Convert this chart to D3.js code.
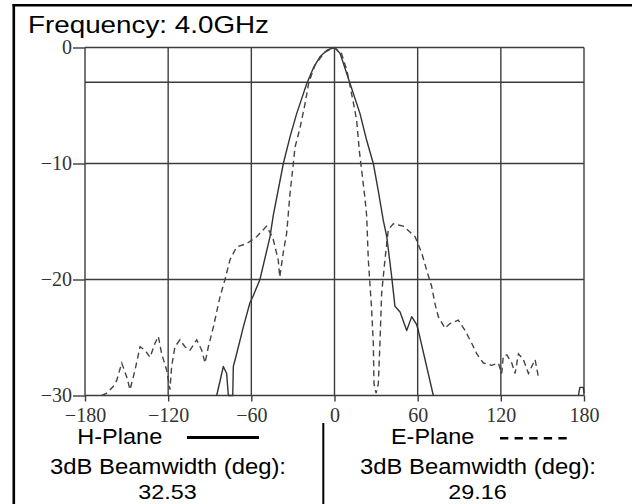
<!DOCTYPE html>
<html>
<head>
<meta charset="utf-8">
<script src="https://cdn.jsdelivr.net/npm/d3@7/dist/d3.min.js"></script>
<style>
  html, body { margin: 0; padding: 0; background: #fff; }
  svg { display: block; }
</style>
</head>
<body>
<svg id="chart" width="632" height="504"></svg>
<script>
// ---------- data ----------
const titleText = "Frequency: 4.0GHz";
const xTicks = [-180, -120, -60, 0, 60, 120, 180];
const yTicks = [0, -10, -20, -30];
const yGrid = [0, -3, -10, -20, -30];

// H-Plane (solid)
const hAngles = [-85, -80.2, -77.8, -76.6, -73.4, -73, -70.6, -65.8, -61, -58.6, -53.8, -46.5, -44.2, -36.9, -32.1, -27.3, -20, -15, -10.5, -5, 0, 4, 11.2, 18.4, 23.2, 28, 31.5, 35.2, 37.7, 41.3, 43.6, 47.3, 52.1, 55.7, 59.3, 60.5, 71.3, null, 176, 177, 179.5, 180];
const hGain   = [-30, -27.5, -28.1, -30, -30, -27.5, -26.4, -24.1, -22, -21.4, -20, -16.3, -14.5, -10, -7.7, -5.7, -3.1, -1.7, -0.8, -0.2, 0, -0.5, -3.1, -5.7, -8, -10, -12.3, -14.9, -16.3, -19.8, -22.3, -22.8, -24.4, -23.2, -23.9, -24.4, -30, null, -30, -29.3, -29.3, -29.8];

// E-Plane (dashed)
const eAngles = [-168, -164.3, -159.5, -157.1, -153.5, -149.9, -147.5, -143.9, -140.3, -136.7, -133.1, -129.5, -127.1, -124.7, -121.1, -118.7, -117.5, -115.1, -111.5, -107.9, -104.3, -99.4, -95.8, -93.4, -91, -87.4, -82.6, -79, -75.4, -70.6, -63.3, -56, -49, -44.5, -40.6, -39.5, -37, -34.5, -32.1, -29.7, -28.5, -25, -21.5, -18.5, -14, -7, 0, 5, 9, 11, 14, 16, 18, 20, 22, 23.2, 24.4, 26.8, 28, 28.5, 30, 31.6, 32.8, 34, 36.4, 38.8, 42.4, 49.6, 58.1, 62.9, 66.5, 70.1, 72.5, 74.9, 79.7, 83.3, 89.3, 94.2, 99, 102.6, 107.4, 113.4, 118.2, 120.6, 121.8, 124.3, 127.9, 130.3, 132.7, 136.3, 139.9, 142.3, 144.7, 147.1];
const eGain   = [-30, -29.8, -29.2, -28.7, -27.2, -28.4, -29.5, -27.8, -25.8, -26.1, -26.7, -25.5, -24.9, -26.4, -27.8, -29.5, -27.5, -25.8, -25.2, -25.8, -26.1, -25.2, -26.1, -27.2, -25.8, -24.1, -21.5, -20, -18.3, -17.2, -16.9, -16.3, -15.4, -16.4, -18.3, -19.8, -17.7, -16, -12.6, -10, -8.6, -7, -5, -3, -1.5, -0.4, 0, -0.5, -2, -3.2, -5, -6.3, -9, -11, -13, -14.5, -18.3, -22.6, -25.5, -29, -29.8, -29, -25.5, -21.2, -18.3, -15.7, -15.2, -15.4, -16.3, -17.7, -19.2, -20.6, -22.1, -23.2, -24.2, -23.8, -23.5, -24.4, -25.5, -26.4, -27.2, -27.4, -27.2, -28.1, -26.6, -26.5, -27.2, -28.1, -26.4, -26.9, -28.1, -27.5, -26.9, -28.4];

const legendLabels = ["H-Plane", "E-Plane"];
const beamLabel = "3dB Beamwidth (deg):";
const beamValues = ["32.53", "29.16"];

// ---------- drawing ----------
const svg = d3.select("#chart");
const sans = "'Liberation Sans', Arial, sans-serif";
const serif = "'Liberation Serif', 'Times New Roman', serif";

const x = d3.scaleLinear().domain([-180, 180]).range([85, 584]);
const y = d3.scaleLinear().domain([-30, 0]).range([395.5, 47.5]);

// outer frame
svg.append("line").attr("x1", 12.5).attr("x2", 632).attr("y1", 5.3).attr("y2", 5.3)
  .attr("stroke", "#000").attr("stroke-width", 2.6);
svg.append("line").attr("x1", 13.8).attr("x2", 13.8).attr("y1", 4).attr("y2", 504)
  .attr("stroke", "#000").attr("stroke-width", 2.6);

// title
svg.append("text").attr("x", 28).attr("y", 32.5)
  .attr("font-family", sans).attr("font-size", 24).attr("fill", "#000")
  .attr("textLength", 241).attr("lengthAdjust", "spacingAndGlyphs")
  .text(titleText);

const gridColor = "#3c3c3c";

// grid
const grid = svg.append("g");
grid.selectAll("line.h").data(yGrid).join("line").attr("class", "h")
  .attr("x1", x(-180)).attr("x2", x(180))
  .attr("y1", d => y(d)).attr("y2", d => y(d))
  .attr("stroke", gridColor).attr("stroke-width", 1.4);
grid.selectAll("line.v").data(xTicks).join("line").attr("class", "v")
  .attr("x1", d => x(d)).attr("x2", d => x(d))
  .attr("y1", y(0)).attr("y2", y(-30))
  .attr("stroke", gridColor).attr("stroke-width", 1.4);

// axes
const yAxis = d3.axisLeft(y).tickValues(yTicks).tickSize(12).tickPadding(1)
  .tickFormat(d => d === 0 ? "0" : "\u2212" + Math.abs(d));
const gy = svg.append("g").attr("transform", `translate(${x(-180)},0)`).call(yAxis);
gy.select(".domain").remove();
gy.selectAll(".tick line").attr("stroke", gridColor).attr("stroke-width", 1.4);
gy.selectAll(".tick text").attr("font-family", serif).attr("font-size", 20).attr("fill", "#333");

const xAxis = d3.axisBottom(x).tickValues(xTicks).tickSize(6).tickPadding(6)
  .tickFormat(d => d < 0 ? "\u2212" + Math.abs(d) : String(d));
const gx = svg.append("g").attr("transform", `translate(0,${y(-30)})`).call(xAxis);
gx.select(".domain").remove();
gx.selectAll(".tick line").attr("stroke", gridColor).attr("stroke-width", 1.4);
gx.selectAll(".tick text").attr("font-family", serif).attr("font-size", 20).attr("fill", "#333");

// curves
const line = d3.line()
  .defined(d => d[0] !== null && d[1] !== null)
  .x(d => x(d[0])).y(d => y(d[1]));

const hData = hAngles.map((a, i) => [a, hGain[i]]);
const eData = eAngles.map((a, i) => [a, eGain[i]]);

svg.append("path").datum(hData).attr("d", line)
  .attr("fill", "none").attr("stroke", "#333").attr("stroke-width", 1.4)
  .attr("stroke-linejoin", "round");
svg.append("path").datum(eData).attr("d", line)
  .attr("fill", "none").attr("stroke", "#444").attr("stroke-width", 1.4)
  .attr("stroke-dasharray", "6,4");

// legend
const leg = svg.append("g").attr("font-family", sans).attr("font-size", 22).attr("fill", "#000");
leg.append("text").attr("x", 77.3).attr("y", 444.3)
  .attr("textLength", 85).attr("lengthAdjust", "spacingAndGlyphs").text(legendLabels[0]);
leg.append("line").attr("x1", 187).attr("x2", 259).attr("y1", 437.5).attr("y2", 437.5)
  .attr("stroke", "#000").attr("stroke-width", 3);
leg.append("text").attr("x", 50).attr("y", 474)
  .attr("textLength", 236).attr("lengthAdjust", "spacingAndGlyphs").text(beamLabel);
leg.append("text").attr("x", 138.3).attr("y", 499)
  .attr("font-size", 21)
  .attr("textLength", 58.4).attr("lengthAdjust", "spacingAndGlyphs").text(beamValues[0]);

leg.append("text").attr("x", 391).attr("y", 444.3)
  .attr("textLength", 83.3).attr("lengthAdjust", "spacingAndGlyphs").text(legendLabels[1]);
leg.append("line").attr("x1", 500).attr("x2", 567).attr("y1", 438.3).attr("y2", 438.3)
  .attr("stroke", "#000").attr("stroke-width", 2.6).attr("stroke-dasharray", "8.3,6.3");
leg.append("text").attr("x", 360).attr("y", 474)
  .attr("textLength", 236).attr("lengthAdjust", "spacingAndGlyphs").text(beamLabel);
leg.append("text").attr("x", 448.3).attr("y", 499)
  .attr("font-size", 21)
  .attr("textLength", 58.4).attr("lengthAdjust", "spacingAndGlyphs").text(beamValues[1]);

// divider
svg.append("line").attr("x1", 323.3).attr("x2", 323.3).attr("y1", 423).attr("y2", 504)
  .attr("stroke", "#000").attr("stroke-width", 2);
</script>
</body>
</html>
